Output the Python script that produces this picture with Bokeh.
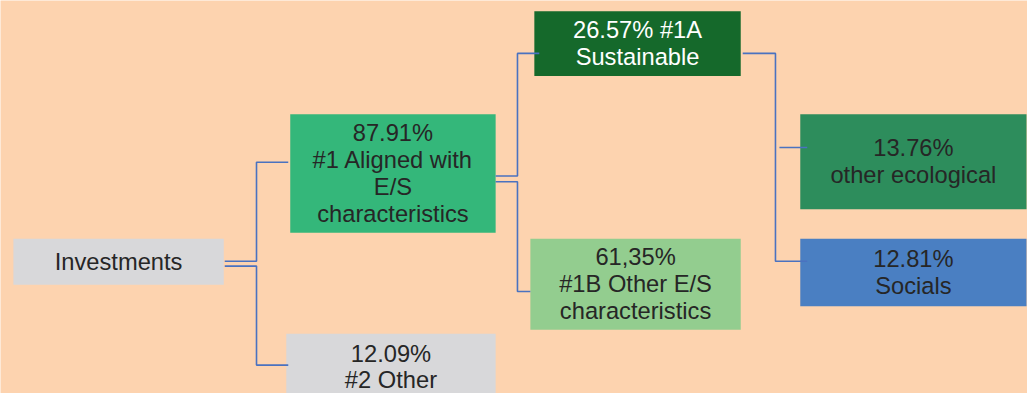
from bokeh.plotting import figure
from bokeh.models import Range1d, ColumnDataSource
from bokeh.core.properties import value
from bokeh.embed import file_html
from bokeh.resources import INLINE

# ---- data ----
node_labels = [
    "Investments",
    "87.91%\n#1 Aligned with\nE/S\ncharacteristics",
    "12.09%\n#2 Other",
    "26.57% #1A\nSustainable",
    "61,35%\n#1B Other E/S\ncharacteristics",
    "13.76%\nother ecological",
    "12.81%\nSocials",
]
node_colors = ["#D8D8DA", "#34B77A", "#D8D8DA", "#15692B", "#93CD8F", "#2D8D5C", "#4A7FC2"]
text_colors = ["#262626", "#262626", "#262626", "#FFFFFF", "#262626", "#262626", "#262626"]

# ---- layout (pixel space of the 1035x401 picture) ----
box_left = [13, 292, 288, 538, 534, 806, 806]
box_right = [225, 499, 499, 746, 746, 1034, 1034]
box_top = [243, 116, 340, 11, 243, 116, 243]
box_bottom = [290, 237, 408, 77, 336, 213, 312]

conn_xs = [
    [226, 258, 258, 290],
    [226, 258, 258, 290],
    [499, 521, 521, 543],
    [499, 521, 521, 534],
    [748, 781, 781, 813],
    [785, 813],
]
conn_ys = [
    [266, 266, 165, 165],
    [271, 271, 372, 372],
    [179, 179, 54, 54],
    [185, 185, 297, 297],
    [54, 54, 266, 266],
    [150, 150],
]

BG = "#FDD3AF"
p = figure(width=1027, height=393, output_backend="svg", toolbar_location=None,
           x_range=Range1d(0, 1035), y_range=Range1d(401, 0),
           min_border=0, background_fill_color=BG, border_fill_color=BG)
p.axis.visible = False
p.grid.visible = False
p.outline_line_color = None

src = ColumnDataSource(dict(
    left=box_left, right=box_right, top=box_top, bottom=box_bottom,
    color=node_colors, label=node_labels, tcolor=text_colors,
    cx=[(a + b) / 2 for a, b in zip(box_left, box_right)],
    cy=[(a + b) / 2 for a, b in zip(box_top, box_bottom)],
))

p.quad(left="left", right="right", top="top", bottom="bottom", source=src,
       fill_color="color", line_color=None)

p.multi_line(xs=conn_xs, ys=conn_ys, line_color="#4A72C0", line_width=1.6)

p.text(x="cx", y="cy", text="label", source=src, text_align="center",
       text_baseline="middle", text_color="tcolor",
       text_font=value("Liberation Sans"), text_font_size="23.7px",
       text_line_height=1.03)

open("out.html", "w").write(file_html(p, INLINE))
